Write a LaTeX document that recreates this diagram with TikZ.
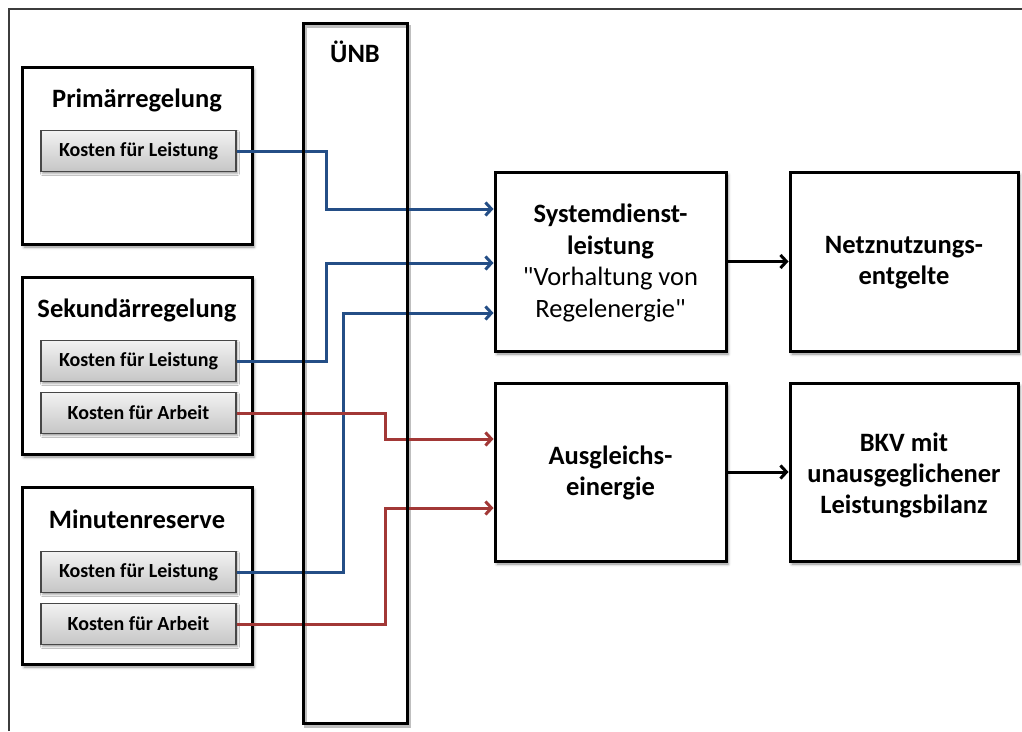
\documentclass[tikz,border=0pt]{standalone}
\usepackage{fontspec}
\setmainfont{Carlito}
\usetikzlibrary{arrows.meta,shadows.blur}
\definecolor{linkblue}{RGB}{36,78,134}
\definecolor{linkred}{RGB}{162,56,54}
\definecolor{framegray}{RGB}{60,60,60}

\begin{document}
\begin{tikzpicture}[x=1pt,y=-1pt,
  softshadow/.style={blur shadow={shadow xshift=2pt,shadow yshift=-3pt,
      shadow blur radius=3pt,shadow opacity=45}},
  box/.style={rectangle,draw=black,line width=3pt,fill=white,softshadow,
      inner sep=0pt,align=center},
  bigtext/.style={font=\fontsize{26.5}{31}\selectfont\bfseries},
  plaintext/.style={font=\fontsize{26.5}{31}\selectfont},
  costbtn/.style={rectangle,draw=black!72,line width=1.5pt,
      top color=gray!10,bottom color=gray!45,
      minimum width=195pt,minimum height=41pt,inner sep=0pt,
      font=\fontsize{20}{24}\selectfont\bfseries,
      blur shadow={shadow xshift=1.5pt,shadow yshift=-2pt,
      shadow blur radius=2pt,shadow opacity=40}},
  link/.style={line width=3pt,-{Straight Barb[length=6pt,width=13pt]}},
  bluelink/.style={link,draw=linkblue},
  redlink/.style={link,draw=linkred},
  flow/.style={link,draw=black},
]
\useasboundingbox (0,0) rectangle (1022,731);

% page frame
\draw[framegray,line width=1.6pt] (9,731) -- (9,9) -- (1022,9);

% shadow of the transmission operator column
\draw[black,opacity=0.25,line width=3pt] (305,26) rectangle (409,726);

% market products on the left
\node[box,minimum width=230pt,minimum height=177pt] (prim) at (137,155.5) {};
\node[box,minimum width=230pt,minimum height=177pt] (sek)  at (137,365.5) {};
\node[box,minimum width=230pt,minimum height=177pt] (min)  at (137,575.5) {};
\node[bigtext] (primtitle) at (137,100) {Primärregelung};
\node[bigtext] (sektitle)  at (137,310) {Sekundärregelung};
\node[bigtext] (mintitle)  at (137,519) {Minutenreserve};

\node[costbtn] (b1) at (138.5,151) {Kosten für Leistung};
\node[costbtn] (b2) at (138.5,361) {Kosten für Leistung};
\node[costbtn] (b3) at (138.5,413) {Kosten für Arbeit};
\node[costbtn] (b4) at (138.5,572) {Kosten für Leistung};
\node[costbtn] (b5) at (138.5,624) {Kosten für Arbeit};

% cost categories and who pays them
\node[box,minimum width=231pt,minimum height=179pt] (sys) at (610.5,261.5) {};
\node[box,minimum width=228pt,minimum height=179pt] (netz) at (904,261.5) {};
\node[box,minimum width=231pt,minimum height=178pt] (aus) at (610.5,472) {};
\node[box,minimum width=228pt,minimum height=178pt] (bkv) at (904,472) {};

\node[align=center,font=\fontsize{26.5}{31.5}\selectfont] (systext) at (610.5,263)
  {\textbf{Systemdienst-}\\\textbf{leistung}\\\textquotedbl Vorhaltung von\\Regelenergie\textquotedbl};
\node[align=center,bigtext] (netztext) at (904,263) {Netznutzungs-\\entgelte};
\node[align=center,bigtext] (austext) at (610.5,473) {Ausgleichs-\\einergie};
\node[align=center,bigtext] (bkvtext) at (904,475) {BKV mit\\unausgeglichener\\Leistungsbilanz};

% reserve capacity costs
\draw[bluelink] (b1.east) -- ++(90,0) |- ([yshift=52.5pt]sys.west);
\draw[bluelink] (b2.east) -- ++(90,0) |- ([yshift=-1.5pt]sys.west);
\draw[bluelink] (b4.east) -- ++(107,0) |- ([yshift=-51.5pt]sys.west);
% energy costs
\draw[redlink] (b3.east) -- ++(149,0) |- ([yshift=33pt]aus.west);
\draw[redlink] (b5.east) -- ++(149,0) |- ([yshift=-36pt]aus.west);

\draw[flow] (sys.east) -- (netz.west);
\draw[flow] (aus.east) -- (bkv.west);

% transmission system operator column, drawn over the links
\node[rectangle,draw=black,line width=3pt,minimum width=104pt,minimum height=700pt,
      inner sep=0pt] (unb) at (355,373) {};
\node[bigtext] (unbtitle) at (355,52) {ÜNB};
\end{tikzpicture}
\end{document}
